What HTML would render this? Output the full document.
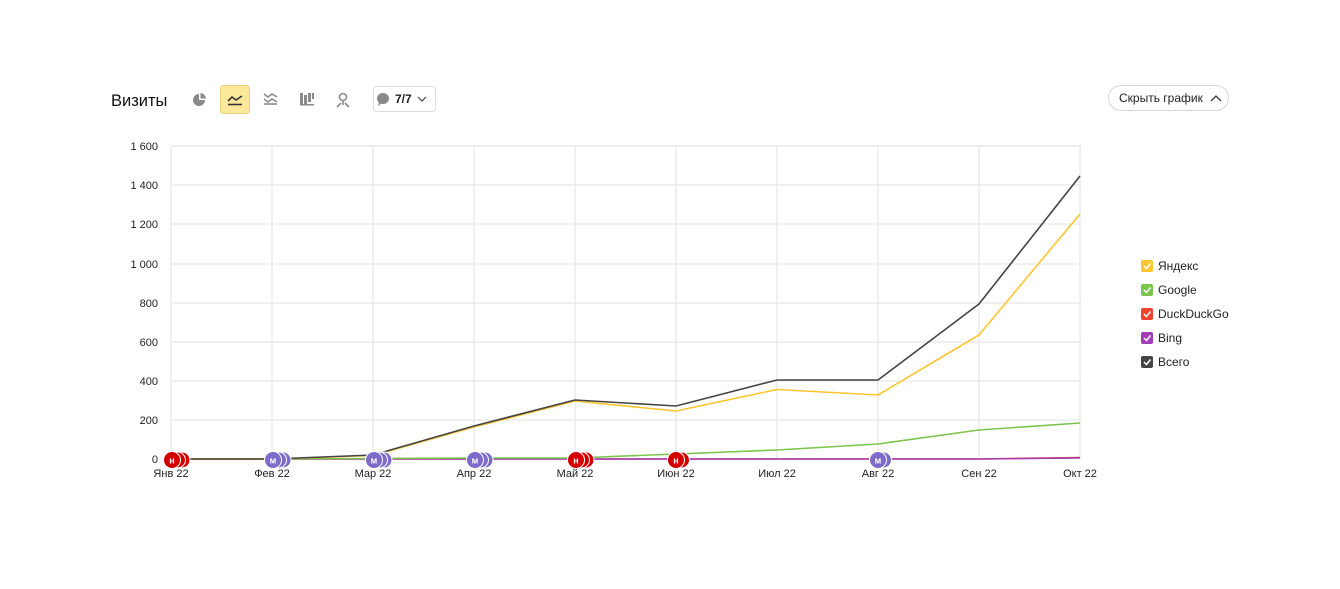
<!DOCTYPE html>
<html><head><meta charset="utf-8">
<style>
html,body{margin:0;padding:0;background:#fff;}
body{width:1340px;height:589px;overflow:hidden;position:relative;font-family:"Liberation Sans",Arial,sans-serif;}
</style></head>
<body>
<svg width="1340" height="589" viewBox="0 0 1340 589" style="position:absolute;left:0;top:0" font-family="Liberation Sans, Arial, sans-serif">
<rect x="0" y="0" width="1340" height="589" fill="#fff"/>
<!-- header -->
<text x="111" y="106" font-size="16.5" fill="#111">Визиты</text>
<!-- pie icon -->
<g fill="#8a8a8a"><path d="M199 94 A6 6 0 1 0 205 100 L199 100 Z"/><path d="M200.5 93 A6 6 0 0 1 206 98.5 L200.5 98.5 Z"/></g>
<!-- active line icon -->
<rect x="220.5" y="85.5" width="29" height="28" rx="3" fill="#fce89a" stroke="#ecd37a"/>
<path d="M228 101 L232 97 L236 100 L242 96" stroke="#333" stroke-width="1.6" fill="none"/>
<path d="M228 104.5 H242" stroke="#333" stroke-width="1.6"/>
<!-- stacked icon -->
<g stroke="#8a8a8a" stroke-width="1.6" fill="none"><path d="M264 94 L268 97 L272 94 L277 97"/><path d="M264 99 L268 102 L272 99 L277 102"/><path d="M264 104 H277"/></g>
<!-- bars icon -->
<g fill="#8a8a8a"><rect x="300" y="93" width="3" height="11"/><rect x="304" y="95" width="3" height="9"/><rect x="308" y="93" width="3" height="9"/><rect x="312" y="93" width="2" height="6"/><rect x="300" y="104" width="14" height="1.5"/></g>
<!-- map pin icon -->
<g fill="none" stroke="#8a8a8a" stroke-width="1.6"><circle cx="343" cy="97" r="3.5"/><path d="M343 101 L343 105"/><path d="M337 107 L341 103 M349 107 L345 103"/></g>
<!-- 7/7 button -->
<rect x="373.5" y="86.5" width="62" height="25" rx="3" fill="#fff" stroke="#ddd"/>
<ellipse cx="383" cy="98.5" rx="6" ry="5.5" fill="#8a8a8a"/><path d="M379 102 L378 106 L382 103 Z" fill="#8a8a8a"/>
<text x="395" y="103" font-size="12" font-weight="bold" fill="#222">7/7</text>
<path d="M418 97 L422 101 L426 97" stroke="#444" stroke-width="1.2" fill="none"/>
<!-- hide button -->
<rect x="1108.5" y="85.5" width="120" height="25" rx="12.5" fill="#fff" stroke="#d6d6d6"/>
<text x="1119" y="102" font-size="12" fill="#222">Скрыть график</text>
<path d="M1211 101 L1216 96 L1221 101" stroke="#333" stroke-width="1.3" fill="none"/>

<!-- grid -->
<g stroke="#e6e6e6" stroke-width="1.2">
<line x1="171" y1="146" x2="1081" y2="146"/>
<line x1="171" y1="185" x2="1081" y2="185"/>
<line x1="171" y1="224" x2="1081" y2="224"/>
<line x1="171" y1="264" x2="1081" y2="264"/>
<line x1="171" y1="303" x2="1081" y2="303"/>
<line x1="171" y1="342" x2="1081" y2="342"/>
<line x1="171" y1="381" x2="1081" y2="381"/>
<line x1="171" y1="420" x2="1081" y2="420"/>
<line x1="171" y1="146" x2="171" y2="459"/>
<line x1="272" y1="146" x2="272" y2="459"/>
<line x1="373" y1="146" x2="373" y2="459"/>
<line x1="474" y1="146" x2="474" y2="459"/>
<line x1="575" y1="146" x2="575" y2="459"/>
<line x1="676" y1="146" x2="676" y2="459"/>
<line x1="777" y1="146" x2="777" y2="459"/>
<line x1="878" y1="146" x2="878" y2="459"/>
<line x1="979" y1="146" x2="979" y2="459"/>
<line x1="1080" y1="146" x2="1080" y2="459"/>
</g>
<!-- y labels -->
<g font-size="11" fill="#222" text-anchor="end">
<text x="158" y="150">1 600</text>
<text x="158" y="189">1 400</text>
<text x="158" y="228">1 200</text>
<text x="158" y="268">1 000</text>
<text x="158" y="307">800</text>
<text x="158" y="346">600</text>
<text x="158" y="385">400</text>
<text x="158" y="424">200</text>
<text x="158" y="463">0</text>
</g>
<!-- x labels -->
<g font-size="11" fill="#222" text-anchor="middle">
<text x="171" y="477">Янв 22</text>
<text x="272" y="477">Фев 22</text>
<text x="373" y="477">Мар 22</text>
<text x="474" y="477">Апр 22</text>
<text x="575" y="477">Май 22</text>
<text x="676" y="477">Июн 22</text>
<text x="777" y="477">Июл 22</text>
<text x="878" y="477">Авг 22</text>
<text x="979" y="477">Сен 22</text>
<text x="1080" y="477">Окт 22</text>
</g>
<!-- series -->
<g fill="none" stroke-width="1.6" stroke-linejoin="round">
<polyline stroke="#e63d2e" points="171,459 272,459 373,459 474,459 575,459 676,459 777,459 878,459 979,459 1080,457.5"/>
<polyline stroke="#a23fb8" points="171,459 272,459 373,459 474,459 575,459 676,459 777,459 878,459 979,459 1080,458"/>
<polyline stroke="#7cc44b" points="171,459 272,459 373,458.5 474,458 575,458 676,454 777,450 878,444 979,430 1080,423"/>
<polyline stroke="#fdc530" points="171,459 272,459 373,455.5 474,427 575,401 676,411 777,389.5 878,395 979,335 1080,214"/>
<polyline stroke="#444" points="171,459 272,459 373,455 474,426 575,400 676,406 777,380 878,380 979,304 1080,176"/>
</g>
<!-- markers -->
<g font-size="9" font-weight="bold" fill="#fff" text-anchor="middle">
<!-- Jan red -->
<circle cx="182" cy="460" r="8" fill="#d40000" stroke="#fff" stroke-width="1"/><circle cx="177.5" cy="460" r="8" fill="#d40000" stroke="#fff" stroke-width="1"/><circle cx="172" cy="460" r="8.5" fill="#d40000" stroke="#fff" stroke-width="1"/>
<text x="172" y="463.5">н</text>
<!-- Feb purple -->
<circle cx="283" cy="460" r="8" fill="#7d6ccb" stroke="#fff" stroke-width="1"/><circle cx="278.5" cy="460" r="8" fill="#7d6ccb" stroke="#fff" stroke-width="1"/><circle cx="273" cy="460" r="8.5" fill="#7d6ccb" stroke="#fff" stroke-width="1"/>
<text x="273" y="463.5">м</text>
<!-- Mar purple -->
<circle cx="384" cy="460" r="8" fill="#7d6ccb" stroke="#fff" stroke-width="1"/><circle cx="379.5" cy="460" r="8" fill="#7d6ccb" stroke="#fff" stroke-width="1"/><circle cx="374" cy="460" r="8.5" fill="#7d6ccb" stroke="#fff" stroke-width="1"/>
<text x="374" y="463.5">м</text>
<!-- Apr purple -->
<circle cx="485" cy="460" r="8" fill="#7d6ccb" stroke="#fff" stroke-width="1"/><circle cx="480.5" cy="460" r="8" fill="#7d6ccb" stroke="#fff" stroke-width="1"/><circle cx="475" cy="460" r="8.5" fill="#7d6ccb" stroke="#fff" stroke-width="1"/>
<text x="475" y="463.5">м</text>
<!-- May red -->
<circle cx="586" cy="460" r="8" fill="#d40000" stroke="#fff" stroke-width="1"/><circle cx="581.5" cy="460" r="8" fill="#d40000" stroke="#fff" stroke-width="1"/><circle cx="576" cy="460" r="8.5" fill="#d40000" stroke="#fff" stroke-width="1"/>
<text x="576" y="463.5">н</text>
<!-- Jun red -->
<circle cx="681.5" cy="460" r="8" fill="#d40000" stroke="#fff" stroke-width="1"/><circle cx="676" cy="460" r="8.5" fill="#d40000" stroke="#fff" stroke-width="1"/>
<text x="676" y="463.5">н</text>
<!-- Aug purple -->
<circle cx="883.5" cy="460" r="8" fill="#7d6ccb" stroke="#fff" stroke-width="1"/><circle cx="878" cy="460" r="8.5" fill="#7d6ccb" stroke="#fff" stroke-width="1"/>
<text x="878" y="463.5">м</text>
</g>
<!-- legend -->
<g font-size="12" fill="#222">
<rect x="1141" y="260" width="12" height="12" rx="2" fill="#fdc530"/>
<rect x="1141" y="284" width="12" height="12" rx="2" fill="#7cc44b"/>
<rect x="1141" y="308" width="12" height="12" rx="2" fill="#f0422d"/>
<rect x="1141" y="332" width="12" height="12" rx="2" fill="#a23fb8"/>
<rect x="1141" y="356" width="12" height="12" rx="2" fill="#444"/>
<g stroke="#fff" stroke-width="1.5" fill="none">
<path d="M1144 266 L1146.5 268.5 L1150.5 263.5"/>
<path d="M1144 290 L1146.5 292.5 L1150.5 287.5"/>
<path d="M1144 314 L1146.5 316.5 L1150.5 311.5"/>
<path d="M1144 338 L1146.5 340.5 L1150.5 335.5"/>
<path d="M1144 362 L1146.5 364.5 L1150.5 359.5"/>
</g>
<text x="1158" y="270">Яндекс</text>
<text x="1158" y="294">Google</text>
<text x="1158" y="318">DuckDuckGo</text>
<text x="1158" y="342">Bing</text>
<text x="1158" y="366">Всего</text>
</g>
</svg>
</body></html>
